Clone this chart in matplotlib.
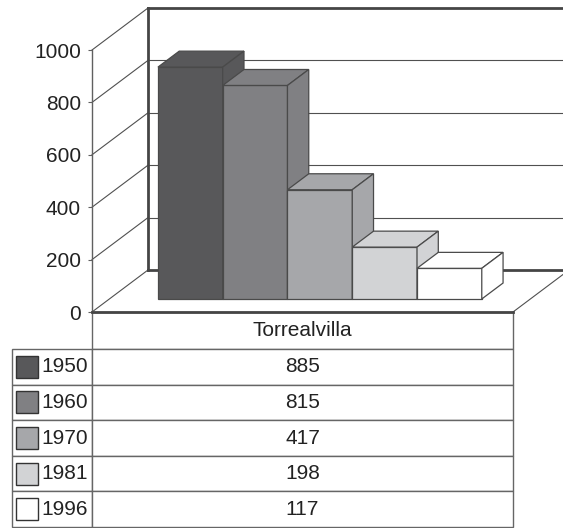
import matplotlib.pyplot as plt
from matplotlib.patches import Polygon, Rectangle

plt.rcParams['font.family'] = ['Liberation Sans', 'DejaVu Sans']

# Population by census year
town = 'Torrealvilla'
years = ['1950', '1960', '1970', '1981', '1996']
values = [885, 815, 417, 198, 117]
bar_colors = ['#58585a', '#808083', '#a6a7aa', '#d2d3d5', '#ffffff']
yticks = [0, 200, 400, 600, 800, 1000]

W, H = 563, 528
fig = plt.figure(figsize=(W / 100, H / 100), dpi=100)

# front plane of the 3-D box (pixels): left, floor line, width, height of 0..1000
x0, y0, pw, ph = 92, 312, 421, 262
ax = fig.add_axes([x0 / W, (H - y0) / H, pw / W, ph / H])
ax.set_xlim(0, 1)
ax.set_ylim(0, 1000)


def to_data(px, py):
    # pixel position -> data coordinates of ax
    return (px - x0) / pw, (y0 - py) / ph * 1000


# depth of the box, in data units
DX = 56 / pw
DY = 42 / ph * 1000

thin = dict(color='#505050', lw=0.8, zorder=1, clip_on=False)
thick = dict(color='#454545', lw=2, zorder=1, clip_on=False)

# side wall and back wall gridlines
for v in yticks:
    ax.plot([0, DX], [v, v + DY], **thin)
    ax.plot([DX, 1 + DX], [v + DY, v + DY], **(thick if v in (0, 1000) else thin))
ax.plot([DX, DX], [DY, 1000 + DY], **thick)
# floor
ax.plot([1, 1 + DX], [0, DY], **thin)
ax.plot([0, 1], [0, 0], color='#454545', lw=2, zorder=8, clip_on=False)

# bars: front, top and right faces
n = len(values)
bw = 1 / (n + 1.5)
start = (1 - n * bw) / 2
d0, d1 = 0.31, 0.69


def pt(x, v, d):
    return (x + d * DX, v + d * DY)


for i, (v, c) in enumerate(zip(values, bar_colors)):
    xl = start + i * bw
    xr = xl + bw
    faces = [
        [pt(xl, 0, d0), pt(xr, 0, d0), pt(xr, v, d0), pt(xl, v, d0)],
        [pt(xl, v, d0), pt(xr, v, d0), pt(xr, v, d1), pt(xl, v, d1)],
        [pt(xr, 0, d0), pt(xr, 0, d1), pt(xr, v, d1), pt(xr, v, d0)],
    ]
    for f in faces:
        ax.add_patch(Polygon(f, closed=True, facecolor=c, edgecolor='#4a4a4a',
                             lw=0.9, zorder=3 + i * 0.1, clip_on=False))

# value axis
for s in ['top', 'right', 'bottom']:
    ax.spines[s].set_visible(False)
ax.spines['left'].set_color('#606060')
ax.spines['left'].set_linewidth(1)
ax.spines['left'].set_zorder(7)
ax.set_xticks([])
ax.set_yticks(yticks)
ax.tick_params(axis='y', direction='out', length=3, width=0.8, color='#606060',
               labelsize=15, labelcolor='#222222', pad=5)
ax.patch.set_visible(False)

# data table under the floor
tab_left, tab_right = 12, x0 + pw
head_h, row_h = 37, 35.6
cell = dict(facecolor='white', edgecolor='#666666', lw=1, zorder=6, clip_on=False)
txt = dict(fontsize=15, color='#222222', va='center', zorder=9, clip_on=False)


def add_cell(px_l, px_t, px_r, px_b):
    xl, yt = to_data(px_l, px_t)
    xr, yb = to_data(px_r, px_b)
    ax.add_patch(Rectangle((xl, yb), xr - xl, yt - yb, **cell))


add_cell(x0, y0, tab_right, y0 + head_h)
ax.text(0.5, to_data(0, y0 + head_h / 2)[1], town, ha='center', **txt)
for i, (yr, v, c) in enumerate(zip(years, values, bar_colors)):
    top = y0 + head_h + i * row_h
    add_cell(tab_left, top, x0, top + row_h)
    add_cell(x0, top, tab_right, top + row_h)
    cy = to_data(0, top + row_h / 2)[1]
    ax.text(to_data(88, 0)[0], cy, yr, ha='right', **txt)
    ax.text(0.5, cy, str(v), ha='center', **txt)
    # legend key
    kx, ky = to_data(16, top + row_h / 2 + 11)
    ax.add_patch(Rectangle((kx, ky), 22 / pw, 22 / ph * 1000, facecolor=c,
                           edgecolor='#333333', lw=1, zorder=9, clip_on=False))

fig.savefig('out.png', dpi=100)
